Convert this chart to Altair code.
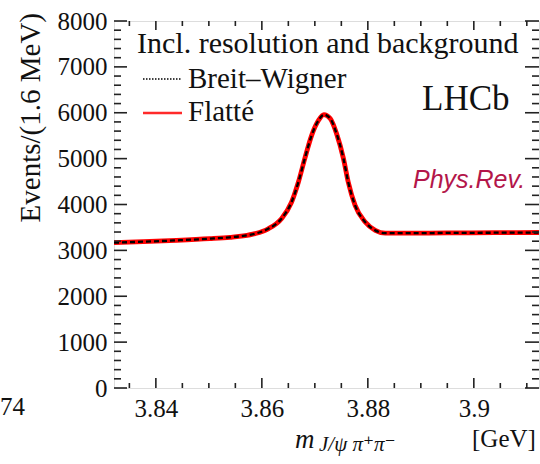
import altair as alt
import pandas as pd

# ---- data ----
mass = [3.8321, 3.8376, 3.8439, 3.8502, 3.8540, 3.8565, 3.8587, 3.8612, 3.8637,
        3.8656, 3.8669, 3.8681, 3.8694, 3.8707, 3.8717, 3.8729, 3.8741, 3.8754,
        3.8763, 3.8776, 3.8795, 3.8814, 3.8833, 3.8870, 3.8950, 3.9040, 3.9123]
events = [3168, 3189, 3218, 3255, 3285, 3315, 3364, 3470, 3690,
          4050, 4490, 5000, 5508, 5835, 5960, 5873, 5545, 5000,
          4490, 3981, 3617, 3436, 3375, 3375, 3380, 3385, 3390]

x_domain = [3.8321, 3.9123]
y_domain = [0, 8000]
x_major = [3.84, 3.86, 3.88, 3.90]
x_minor = [3.835, 3.845, 3.85, 3.855, 3.865, 3.87, 3.875, 3.885, 3.89, 3.895, 3.905, 3.91]
y_major = [0, 1000, 2000, 3000, 4000, 5000, 6000, 7000, 8000]
y_minor = [v for v in range(0, 8001, 200) if v % 1000 != 0]

W, H = 425, 367
SERIF = "Liberation Serif"

curve = pd.DataFrame({"m": mass, "n": events})
xs = alt.Scale(domain=x_domain, nice=False, zero=False)
ys = alt.Scale(domain=y_domain, nice=False, zero=False)

xaxis = alt.Axis(values=x_major, format="~g", ticks=False, domain=False, grid=False,
                 labelFont=SERIF, labelFontSize=25, labelColor="#111", labelPadding=8,
                 title=None, labelFlush=False)
yaxis = alt.Axis(values=y_major, format="d", ticks=False, domain=False, grid=False,
                 labelFont=SERIF, labelFontSize=25, labelColor="#111", labelPadding=7,
                 title=None, labelFlush=False)

base = alt.Chart(curve)
red = base.mark_line(color="#ff0000", strokeWidth=4.8, interpolate="monotone", clip=True).encode(
    x=alt.X("m:Q", scale=xs, axis=xaxis),
    y=alt.Y("n:Q", scale=ys, axis=yaxis),
)
black = base.mark_line(color="#000000", strokeWidth=2.3, strokeDash=[5, 3],
                       interpolate="monotone", clip=True).encode(
    x=alt.X("m:Q", scale=xs, axis=xaxis), y=alt.Y("n:Q", scale=ys, axis=yaxis))

def yticks(vals, x0, x1):
    return alt.Chart(pd.DataFrame({"v": vals})).mark_rule(color="#222", strokeWidth=1.6).encode(
        y=alt.Y("v:Q", scale=ys, axis=yaxis), x=alt.value(x0), x2=alt.value(x1))

def xticks(vals, y0, y1):
    return alt.Chart(pd.DataFrame({"v": vals})).mark_rule(color="#222", strokeWidth=1.6).encode(
        x=alt.X("v:Q", scale=xs, axis=xaxis), y=alt.value(y0), y2=alt.value(y1))

ticks = [
    yticks(y_major, 0, 13), yticks(y_minor, 0, 7),
    yticks(y_major, W, W - 14), yticks(y_minor, W, W - 7),
    xticks(x_major, H, H - 10), xticks(x_minor, H, H - 5),
    xticks(x_major, 0, 9), xticks(x_minor, 0, 5),
]

one = pd.DataFrame({"k": [0]})

def label(text, x, y, size, font=SERIF, style="normal", color="#111", align="left",
          baseline="alphabetic", angle=0):
    kw = dict(text=text, font=font, fontSize=size, fontStyle=style, color=color,
              align=align, baseline=baseline)
    if angle:
        kw["angle"] = angle
    return alt.Chart(one).mark_text(**kw).encode(x=alt.value(x), y=alt.value(y))

def sample(x0, x1, y, color, width, dash=None):
    kw = dict(color=color, strokeWidth=width)
    if dash:
        kw["strokeDash"] = dash
    return alt.Chart(one).mark_rule(**kw).encode(x=alt.value(x0), x2=alt.value(x1), y=alt.value(y))

texts = [
    label("Incl. resolution and background", 23, 32, 30),
    sample(29, 68, 58, "#000", 1.5, [1.5, 1.5]),
    label("Breit–Wigner", 74, 67, 29),
    sample(29, 68, 92, "#ff2a2a", 2.6),
    label("Flatté", 74, 100, 29),
    label("LHCb", 308, 89, 35),
    label("Phys.Rev.", 299, 167, 25, font="Liberation Sans", style="italic", color="#b3164a"),
    label("Events/(1.6 MeV)", -83, -8, 29, align="right", baseline="middle", angle=270),
    label("74", -114, 386, 25, baseline="middle"),
    label("m", 181, 427, 27, style="italic"),
    label("J/ψ π⁺π⁻", 205, 430, 21, font="Liberation Serif, DejaVu Serif", style="italic"),
    label("[GeV]", 358, 426, 25),
]

chart = alt.layer(red, black, *ticks, *texts).properties(
    width=W, height=H,
    autosize=alt.AutoSizeParams(type="none"),
    padding={"left": 114, "top": 21, "right": 1, "bottom": 76},
).configure_view(stroke="#222", strokeWidth=2).configure_axis(
    labelFont=SERIF, labelFontSize=25, labelColor="#111"
).configure(background="white", font=SERIF)

chart.save("out.html", embed_options={"renderer": "svg", "actions": False})
